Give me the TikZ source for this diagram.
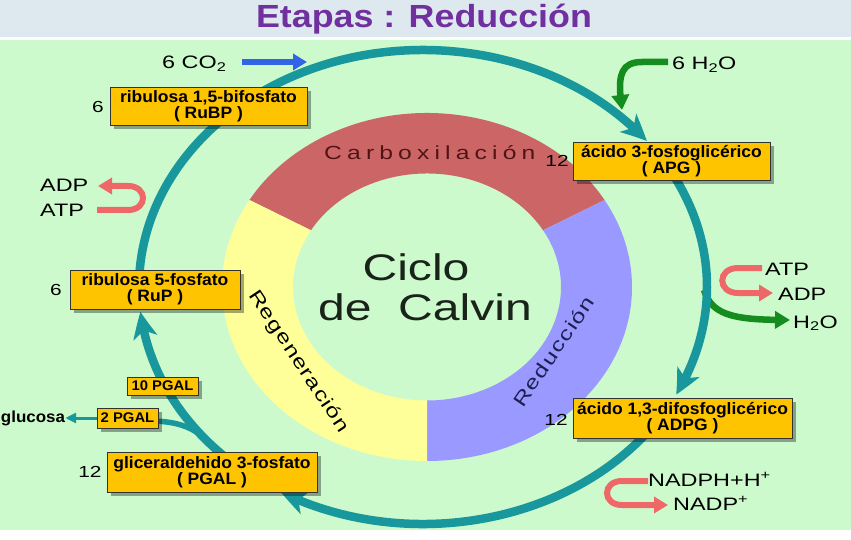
\documentclass[tikz,border=0pt]{standalone}
\usepackage{fontspec}
\setmainfont{Liberation Sans}
\newfontfamily\lab[FakeStretch=1.3]{Liberation Sans}
\newfontfamily\ringf[FakeStretch=1.3]{Liberation Sans}
\newfontfamily\boxf[FakeStretch=1.06]{Liberation Sans}
\newfontfamily\titlef[FakeStretch=1.12]{Liberation Sans}
\usetikzlibrary{arrows.meta,bending,shadows}
\definecolor{titlebg}{RGB}{221,233,238}
\definecolor{bggreen}{RGB}{204,250,204}
\definecolor{titlec}{RGB}{112,48,160}
\definecolor{teal1}{RGB}{24,152,156}
\definecolor{boxy}{RGB}{255,196,0}
\definecolor{redseg}{RGB}{204,102,102}
\definecolor{blueseg}{RGB}{153,153,255}
\definecolor{yelseg}{RGB}{255,255,153}
\definecolor{salmon}{RGB}{238,104,104}
\definecolor{grn}{RGB}{20,140,30}
\definecolor{bluearr}{RGB}{50,100,230}
\definecolor{maroon1}{RGB}{80,20,20}
\definecolor{navy1}{RGB}{30,30,80}
\definecolor{darktxt}{RGB}{25,35,25}
\tikzset{
  cyc/.style={draw=teal1, line width=8.5pt},
  cyctip/.style={-{Stealth[length=26pt,width=24pt,inset=7pt,bend]}},
  box/.style={draw=black!80, fill=boxy, line width=0.8pt, inner sep=0pt, align=center,
    font=\boxf\bfseries\fontsize{16.5}{16}\selectfont,
    drop shadow={shadow xshift=4pt, shadow yshift=-4pt, fill=black, opacity=0.35}},
  smallbox/.style={box, font=\boxf\bfseries\fontsize{14}{14}\selectfont},
  num/.style={font=\lab\fontsize{16}{18}\selectfont, text=black, inner sep=0pt},
  lbl/.style={font=\lab\fontsize{18}{20}\selectfont, text=black, inner sep=0pt, anchor=base west},
  uarrow/.style={draw=salmon, line width=6pt, -{Triangle[length=14pt,width=16pt]}},
  grarrow/.style={draw=grn, line width=6.5pt, -{Triangle[length=15pt,width=17pt]}},
  ringlabel/.style={inner sep=0pt, anchor=base west},
}
\begin{document}
\begin{tikzpicture}[x=1pt,y=-1pt]
\useasboundingbox (0,0) rectangle (851,540);
% background
\fill[titlebg] (0,0) rectangle (851,37);
\fill[white] (0,37) rectangle (851,40);
\fill[bggreen] (0,40) rectangle (851,530);
\fill[white] (0,530) rectangle (851,540);
\node[font=\titlef\bfseries\fontsize{32}{34}\selectfont, text=titlec, inner sep=0pt] (title) at (424,19) {Etapas : Reducción};

% ring sectors
\fill[redseg] ({427+205*cos(30)},{287-174*sin(30)}) arc[start angle=30,end angle=150,x radius=205pt,y radius=174pt]
   -- ({427+134*cos(150)},{287-113.5*sin(150)}) arc[start angle=150,end angle=30,x radius=134pt,y radius=113.5pt] -- cycle;
\fill[blueseg] ({427+205*cos(-90)},{287-174*sin(-90)}) arc[start angle=-90,end angle=30,x radius=205pt,y radius=174pt]
   -- ({427+134*cos(30)},{287-113.5*sin(30)}) arc[start angle=30,end angle=-90,x radius=134pt,y radius=113.5pt] -- cycle;
\fill[yelseg] ({427+205*cos(150)},{287-174*sin(150)}) arc[start angle=150,end angle=270,x radius=205pt,y radius=174pt]
   -- ({427+134*cos(270)},{287-113.5*sin(270)}) arc[start angle=270,end angle=150,x radius=134pt,y radius=113.5pt] -- cycle;

% ring texts
\node[ringlabel, text=maroon1, font=\ringf\fontsize{19}{20}\selectfont\addfontfeature{LetterSpace=27}] (carb) at (324,160) {Carboxilación};
\node[ringlabel, text=black, rotate=-56.4, font=\ringf\fontsize{19}{20}\selectfont\addfontfeature{LetterSpace=6}] (regen) at (248,295) {Regeneración};
\node[ringlabel, text=navy1, rotate=55.9, font=\ringf\fontsize{19}{20}\selectfont\addfontfeature{LetterSpace=8}] (reduc) at (523,409) {Reducción};

\node[font=\lab\fontsize{37}{40}\selectfont, text=darktxt, inner sep=0pt, anchor=base] (ciclo) at (416,280) {Ciclo};
\node[font=\lab\fontsize{37}{40}\selectfont, text=darktxt, inner sep=0pt, anchor=base] (calvin) at (425,320) {de\ \ Calvin};

% green arrow from the cycle (drawn under it)
\coordinate (gA) at (704,290);
\coordinate (gB) at (790,320);
\draw[grarrow] (gA) .. controls (712,316) and (735,320) .. (gB);

% cycle arcs
\coordinate (s1) at ({423+284*cos(232)},{287+237*sin(232)});
\coordinate (s2) at ({423+284*cos(329)},{287+237*sin(329)});
\coordinate (s3) at ({423+284*cos(34)},{287+237*sin(34)});
\coordinate (s4) at ({423+284*cos(130)},{287+237*sin(130)});
\coordinate (s5) at ({423+284*cos(180)},{287+237*sin(180)});
\draw[cyc, cyctip] (s1) arc[start angle=-232, end angle=-322, x radius=284pt, y radius=237pt];
\draw[cyc, cyctip] (s2) arc[start angle=-329, end angle=-387, x radius=284pt, y radius=237pt];
\draw[cyc, cyctip] (s3) arc[start angle=-34, end angle=-120, x radius=284pt, y radius=237pt];
\draw[cyc, cyctip] (s4) arc[start angle=-130, end angle=-174, x radius=284pt, y radius=237pt];
\draw[cyc] (s5) arc[start angle=-180, end angle=-228, x radius=284pt, y radius=237pt];

% boxes
\node[box, minimum width=197pt, minimum height=38pt] (rubp) at (208.5,106) {ribulosa 1,5-bifosfato\\( RuBP )};
\node[box, minimum width=197pt, minimum height=38pt] (apg) at (671.5,161) {ácido 3-fosfoglicérico\\( APG )};
\node[box, minimum width=170pt, minimum height=39pt] (rup) at (155,289.5) {ribulosa 5-fosfato\\( RuP )};
\node[box, minimum width=219pt, minimum height=40pt] (adpg) at (682.5,418) {ácido 1,3-difosfoglicérico\\( ADPG )};
\node[box, minimum width=210pt, minimum height=40pt] (pgal) at (212,472) {gliceraldehido 3-fosfato\\( PGAL )};

% branch to 2 PGAL
\coordinate (brA) at (213,447);
\draw[draw=teal1, line width=5.5pt] (brA) .. controls (200,432) and (185,421) .. (150,421);
\node[smallbox, minimum width=71pt, minimum height=18pt] (p10) at (162.5,386) {10 PGAL};
\node[smallbox, minimum width=61pt, minimum height=20pt] (p2) at (127.5,418) {2 PGAL};
\node[font=\boxf\bfseries\fontsize{16}{16}\selectfont, inner sep=0pt] (glu) at (33,418) {glucosa};
\draw[draw=teal1, line width=3pt, -{Triangle[length=11pt,width=10pt]}] (p2.west) -- (glu.east);

% numbers
\node[num] (n1) at (98,107) {6};
\node[num] (n2) at (557,161) {12};
\node[num] (n3) at (56,290) {6};
\node[num] (n4) at (556,420) {12};
\node[num] (n5) at (90,472) {12};

% CO2
\node[lbl] (co2) at (162,68.5) {6 CO\textsubscript{2}};
\coordinate (bA) at (242,62);
\coordinate (bB) at (307,62);
\draw[draw=bluearr, line width=6pt, -{Triangle[length=14pt,width=16pt]}] (bA) -- (bB);

% H2O top
\node[lbl] (h2o1) at (672,69.5) {6 H\textsubscript{2}O};
\coordinate (hA) at (668,62);
\coordinate (hB) at (622,110);
\draw[grarrow] (hA) -- (642,62) .. controls (618,62) and (618,80) .. (hB);

% ADP / ATP left
\node[lbl] (adp1) at (40,191.5) {ADP};
\node[lbl] (atp1) at (40,216.5) {ATP};
\coordinate (lA) at (97,210);
\coordinate (lB) at (98,186);
\draw[uarrow] (lA) -- (128,210) .. controls (148,210) and (148,186) .. (128,186) -- (lB);

% ATP / ADP right
\node[lbl] (atp2) at (765,275) {ATP};
\node[lbl] (adp2) at (778,300) {ADP};
\node[lbl] (h2o2) at (793,328) {H\textsubscript{2}O};
\coordinate (rA) at (762,268);
\coordinate (rB) at (773,293);
\draw[uarrow] (rA) -- (738,268) .. controls (717,268) and (717,293) .. (738,293) -- (rB);

% NADPH
\node[lbl] (nadph) at (648,486) {NADPH+H\textsuperscript{+}};
\node[lbl] (nadp) at (673,510) {NADP\textsuperscript{+}};
\coordinate (nA) at (648,481);
\coordinate (nB) at (668,505);
\draw[uarrow] (nA) -- (622,481) .. controls (602,481) and (602,505) .. (622,505) -- (nB);
\end{tikzpicture}
\end{document}
